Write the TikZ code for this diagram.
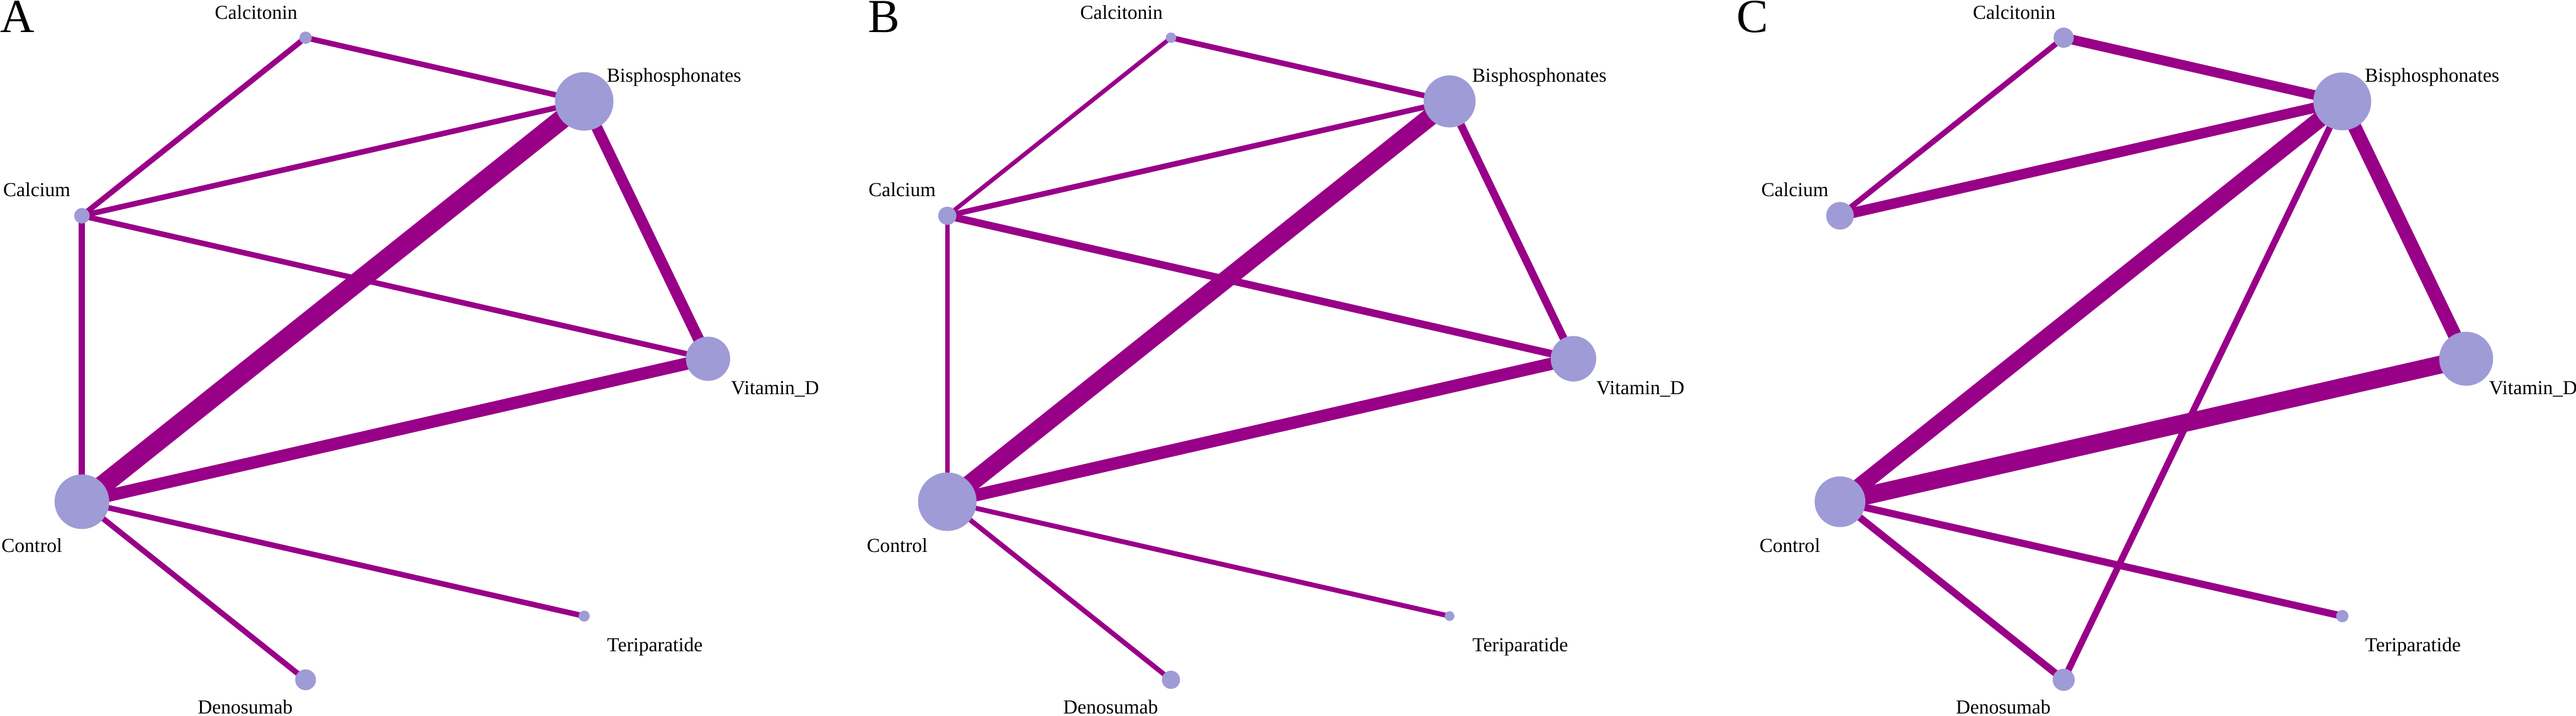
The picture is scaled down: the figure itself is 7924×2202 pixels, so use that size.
\documentclass[tikz,border=0pt]{standalone}
\usepackage{fontspec}
\setmainfont{Liberation Serif}
\usetikzlibrary{backgrounds}

\definecolor{edgepurple}{RGB}{153,0,136}
\definecolor{nodeblue}{RGB}{158,155,214}

\tikzset{
  drug/.style={circle, fill=nodeblue, inner sep=0pt, minimum size=#1},
  lbl/.style={anchor=base west, inner sep=0pt, font=\fontsize{6.1mm}{7mm}\selectfont},
  lnk/.style={draw=edgepurple, line width=#1},
  letter/.style={anchor=base west, inner sep=0pt, font=\fontsize{14.6mm}{16mm}\selectfont}
}

% the seven treatments, sizes of the circles as arguments
\newcommand{\placedrugs}[7]{%
  \node[drug=#1] (ct) at (940,116) {};
  \node[drug=#2] (bis) at (1797,312) {};
  \node[drug=#3] (cal) at (252,664) {};
  \node[drug=#4] (vit) at (2178,1104) {};
  \node[drug=#5] (con) at (252,1544) {};
  \node[drug=#6] (ter) at (1797,1896) {};
  \node[drug=#7] (den) at (940,2092) {};
  \node[lbl] (ct-l) at (660,59) {Calcitonin};
  \node[lbl] (bis-l) at (1866,253) {Bisphosphonates};
  \node[lbl] (cal-l) at (9,605) {Calcium};
  \node[lbl] (vit-l) at (2248,1213) {Vitamin\_D};
  \node[lbl] (con-l) at (4,1700) {Control};
  \node[lbl] (ter-l) at (1867,2005) {Teriparatide};
  \node[lbl] (den-l) at (608,2196) {Denosumab};
}

\begin{document}
\begin{tikzpicture}[x=0.1mm, y=-0.1mm]

\useasboundingbox (0,0) rectangle (7924,2202);

% panel letters
\node[letter] (pa) at (0,100) {A};
\node[letter] (pb) at (2669,100) {B};
\node[letter] (pc) at (5342,100) {C};

% panel A
\begin{scope}[name prefix=A-]
\placedrugs{3.8mm}{18mm}{4.8mm}{13.6mm}{16.8mm}{3.4mm}{6.4mm}
\begin{pgfonlayer}{background}
\draw[lnk=1.7mm] (ct.center) -- (bis.center);
\draw[lnk=1.7mm] (ct.center) -- (cal.center);
\draw[lnk=1.7mm] (cal.center) -- (bis.center);
\draw[lnk=1.7mm] (cal.center) -- (vit.center);
\draw[lnk=1.9mm] (cal.center) -- (con.center);
\draw[lnk=6mm] (con.center) -- (bis.center);
\draw[lnk=3.8mm] (con.center) -- (vit.center);
\draw[lnk=3.4mm] (bis.center) -- (vit.center);
\draw[lnk=1.7mm] (con.center) -- (ter.center);
\draw[lnk=1.7mm] (con.center) -- (den.center);
\end{pgfonlayer}
\end{scope}

% panel B
\begin{scope}[shift={(2662,0)}, name prefix=B-]
\placedrugs{3.2mm}{16mm}{5.6mm}{14mm}{18mm}{3mm}{5.6mm}
\begin{pgfonlayer}{background}
\draw[lnk=1.7mm] (ct.center) -- (bis.center);
\draw[lnk=1.3mm] (ct.center) -- (cal.center);
\draw[lnk=1.7mm] (cal.center) -- (bis.center);
\draw[lnk=2.3mm] (cal.center) -- (vit.center);
\draw[lnk=1.4mm] (cal.center) -- (con.center);
\draw[lnk=5.5mm] (con.center) -- (bis.center);
\draw[lnk=3.8mm] (con.center) -- (vit.center);
\draw[lnk=2.4mm] (bis.center) -- (vit.center);
\draw[lnk=1.5mm] (con.center) -- (ter.center);
\draw[lnk=1.5mm] (con.center) -- (den.center);
\end{pgfonlayer}
\end{scope}

% panel C
\begin{scope}[shift={(5408,0)}, name prefix=C-]
\placedrugs{6.2mm}{17.8mm}{8.5mm}{16.6mm}{15.6mm}{3.8mm}{6.8mm}
\begin{pgfonlayer}{background}
\draw[lnk=3mm] (ct.center) -- (bis.center);
\draw[lnk=1.7mm] (ct.center) -- (cal.center);
\draw[lnk=3.2mm] (cal.center) -- (bis.center);
\draw[lnk=5mm] (con.center) -- (bis.center);
\draw[lnk=4.2mm] (bis.center) -- (vit.center);
\draw[lnk=2mm] (bis.center) -- (den.center);
\draw[lnk=5.5mm] (con.center) -- (vit.center);
\draw[lnk=2.2mm] (con.center) -- (ter.center);
\draw[lnk=2.2mm] (con.center) -- (den.center);
\end{pgfonlayer}
\end{scope}

\end{tikzpicture}
\end{document}
